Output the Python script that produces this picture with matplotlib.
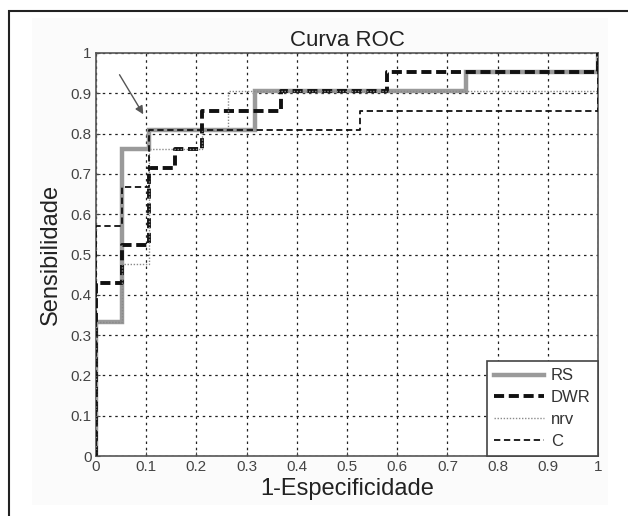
import matplotlib
matplotlib.use("Agg")
import matplotlib.pyplot as plt
from matplotlib.patches import Rectangle
import numpy as np

plt.rcParams['font.family'] = ['Liberation Sans', 'DejaVu Sans']

# ROC step curves (x = 1-Especificidade, y = Sensibilidade)
rs_x  = [0, 0, 1/19, 1/19, 2/19, 2/19, 6/19, 6/19, 14/19, 14/19, 1, 1]
rs_y  = [0, 7/21, 7/21, 16/21, 16/21, 17/21, 17/21, 19/21, 19/21, 20/21, 20/21, 1]

dwr_x = [0, 0, 1/19, 1/19, 2/19, 2/19, 3/19, 3/19, 4/19, 4/19, 7/19, 7/19, 11/19, 11/19, 1, 1]
dwr_y = [0, 9/21, 9/21, 11/21, 11/21, 15/21, 15/21, 16/21, 16/21, 18/21, 18/21, 19/21, 19/21, 20/21, 20/21, 1]

nrv_x = [0, 0, 1/19, 1/19, 2/19, 2/19, 4/19, 4/19, 5/19, 5/19, 1, 1]
nrv_y = [0, 7/21, 7/21, 10/21, 10/21, 16/21, 16/21, 17/21, 17/21, 19/21, 19/21, 1]

c_x   = [0, 0, 1/19, 1/19, 2/19, 2/19, 10/19, 10/19, 1, 1]
c_y   = [0, 12/21, 12/21, 14/21, 14/21, 17/21, 17/21, 18/21, 18/21, 1]

ticks = [0, 0.1, 0.2, 0.3, 0.4, 0.5, 0.6, 0.7, 0.8, 0.9, 1]
tick_labels = ['0', '0.1', '0.2', '0.3', '0.4', '0.5', '0.6', '0.7', '0.8', '0.9', '1']

fig = plt.figure(figsize=(6.28, 5.16), dpi=100)
fig.patch.set_facecolor('white')

# outer frame and faint background
fig.patches.append(Rectangle((32/628, 1-505/516), (608-32)/628, (505-18)/516,
                             transform=fig.transFigure, facecolor='#fbfbfb',
                             edgecolor='none', zorder=-5))
fig.patches.append(Rectangle((9/628, -0.05), 1.1, 1-11/516+0.05,
                             transform=fig.transFigure, facecolor='none',
                             edgecolor='#222222', lw=1.5, zorder=-4))

ax = fig.add_axes([96/628, 1-456/516, (598-96)/628, (456-53)/516])
ax.set_facecolor('white')

ax.plot(rs_x, rs_y, color='#9a9a9a', lw=3.2, solid_joinstyle='miter', label='RS', zorder=3)
ax.plot(dwr_x, dwr_y, color='#111111', lw=2.8, linestyle=(0, (2.6, 1.2)), label='DWR', zorder=4)
ax.plot(nrv_x, nrv_y, color='#8a8a8a', lw=1.0, linestyle=(0, (1, 1.2)), label='nrv', zorder=5)
ax.plot(c_x, c_y, color='#111111', lw=1.3, linestyle=(0, (3.5, 2)), label='C', zorder=5)

ax.set_xlim(0, 1)
ax.set_ylim(0, 1)
ax.set_xticks(ticks)
ax.set_xticklabels(tick_labels)
ax.set_yticks(ticks)
ax.set_yticklabels(tick_labels)
ax.tick_params(direction='in', length=3, labelsize=11, labelcolor='#444444',
               color='#444444', pad=3)
ax.grid(True, color='#222222', linestyle=(0, (2, 3)), lw=0.9)
ax.set_axisbelow(True)
for s in ax.spines.values():
    s.set_color('#555555')
    s.set_linewidth(1.2)

ax.set_title('Curva ROC', fontsize=16, color='#222222', pad=5)
ax.set_xlabel('1-Especificidade', fontsize=17, color='#222222', labelpad=3)
ax.set_ylabel('Sensibilidade', fontsize=17, color='#222222', labelpad=6)

ax.annotate('', xy=(0.097, 0.842), xytext=(0.044, 0.952),
            arrowprops=dict(arrowstyle='-|>', color='#555555', lw=1.0,
                            mutation_scale=12))

leg = ax.legend(loc='lower right', borderaxespad=0, fancybox=False,
                edgecolor='#444444', framealpha=1, fontsize=12,
                handlelength=3.0, labelspacing=0.4, handletextpad=0.4,
                borderpad=0.45)
leg.get_frame().set_linewidth(1.2)
for t in leg.get_texts():
    t.set_color('#333333')

fig.savefig('out.png', dpi=100)
